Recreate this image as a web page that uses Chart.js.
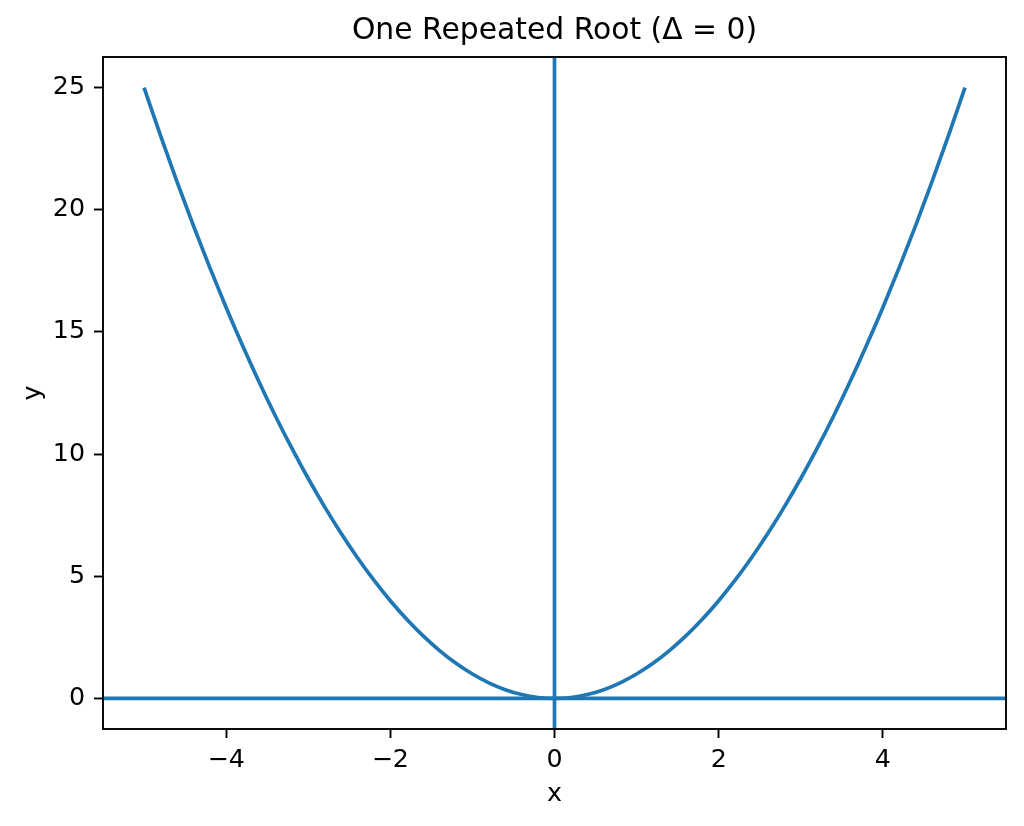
<!DOCTYPE html>
<html>
<head>
<meta charset="utf-8">
<script src="https://cdn.jsdelivr.net/npm/chart.js@4/dist/chart.umd.min.js"></script>
<style>
  html, body { margin: 0; padding: 0; background: #fff; }
  #wrap { width: 1024px; height: 826px; }
</style>
</head>
<body>
<div id="wrap"><canvas id="chart"></canvas></div>
<script>
// ================= DATA =================
const xValues = [-5, -4.8, -4.6, -4.4, -4.2, -4, -3.8, -3.6, -3.4, -3.2, -3, -2.8, -2.6, -2.4, -2.2, -2, -1.8, -1.6, -1.4, -1.2, -1, -0.8, -0.6, -0.4, -0.2,
  0, 0.2, 0.4, 0.6, 0.8, 1, 1.2, 1.4, 1.6, 1.8, 2, 2.2, 2.4, 2.6, 2.8, 3, 3.2, 3.4, 3.6, 3.8, 4, 4.2, 4.4, 4.6, 4.8, 5];
const yValues = [25, 23.04, 21.16, 19.36, 17.64, 16, 14.44, 12.96, 11.56, 10.24, 9, 7.84, 6.76, 5.76, 4.84, 4, 3.24, 2.56, 1.96, 1.44, 1, 0.64, 0.36, 0.16, 0.04,
  0, 0.04, 0.16, 0.36, 0.64, 1, 1.44, 1.96, 2.56, 3.24, 4, 4.84, 5.76, 6.76, 7.84, 9, 10.24, 11.56, 12.96, 14.44, 16, 17.64, 19.36, 21.16, 23.04, 25];
const xTicks = [-4, -2, 0, 2, 4];
const yTicks = [0, 5, 10, 15, 20, 25];
const hLines = [0];   // axhline
const vLines = [0];   // axvline
const titleText = "One Repeated Root (\u0394 = 0)";

const BLUE = "#1f77b4";
const FONT = "DejaVu Sans";
const FS = 25.3;      // tick / axis label size
const LINE_W = 3.7;

const fmt = v => (v < 0 ? "\u2212" + Math.abs(v) : String(v));

// ================= PLUGINS =================
const refLines = {
  id: "refLines",
  afterDatasetsDraw(chart) {
    const { ctx, chartArea: a, scales } = chart;
    ctx.save();
    ctx.beginPath();
    ctx.rect(a.left, a.top, a.right - a.left, a.bottom - a.top);
    ctx.clip();
    ctx.strokeStyle = BLUE;
    ctx.lineWidth = LINE_W;
    hLines.forEach(v => {
      const y = scales.y.getPixelForValue(v);
      ctx.beginPath();
      ctx.moveTo(a.left, y);
      ctx.lineTo(a.right, y);
      ctx.stroke();
    });
    vLines.forEach(v => {
      const x = scales.x.getPixelForValue(v);
      ctx.beginPath();
      ctx.moveTo(x, a.top);
      ctx.lineTo(x, a.bottom);
      ctx.stroke();
    });
    ctx.restore();
  },
  afterDraw(chart) {
    const { ctx, chartArea: a } = chart;
    ctx.save();
    // frame (all four spines)
    ctx.strokeStyle = "#000";
    ctx.lineWidth = 1.9;
    ctx.strokeRect(a.left, a.top, a.right - a.left, a.bottom - a.top);
    // title centred over the plot area
    ctx.fillStyle = "#000";
    ctx.font = `29.8px "${FONT}"`;
    ctx.textAlign = "center";
    ctx.textBaseline = "alphabetic";
    ctx.fillText(titleText, (a.left + a.right) / 2, 39);
    ctx.restore();
  }
};

// ================= CHART =================
new Chart(document.getElementById("chart"), {
  type: "scatter",
  data: {
    datasets: [{
      data: xValues.map((x, i) => ({ x, y: yValues[i] })),
      showLine: true,
      borderColor: BLUE,
      borderWidth: LINE_W,
      pointRadius: 0,
      cubicInterpolationMode: "monotone",
      fill: false
    }]
  },
  options: {
    responsive: true,
    maintainAspectRatio: false,
    animation: false,
    layout: { padding: { left: 0, right: 18, top: 57, bottom: 0 } },
    plugins: {
      legend: { display: false },
      tooltip: { enabled: false },
      title: { display: false }
    },
    scales: {
      x: {
        type: "linear",
        min: -5.5,
        max: 5.5,
        afterBuildTicks: s => { s.ticks = xTicks.map(v => ({ value: v })); },
        afterFit: s => { s.height = 97; },
        grid: { drawOnChartArea: false, drawTicks: true, tickLength: 9, tickColor: "#000", tickWidth: 1.9 },
        border: { display: false },
        ticks: { color: "#000", font: { family: FONT, size: FS }, padding: 7, callback: v => fmt(v), maxRotation: 0 },
        title: { display: true, text: "x", color: "#000", font: { family: FONT, size: FS }, padding: { top: 4, bottom: 16 } }
      },
      y: {
        type: "linear",
        min: -1.25,
        max: 26.25,
        afterBuildTicks: s => { s.ticks = yTicks.map(v => ({ value: v })); },
        afterFit: s => { s.width = 103; },
        grid: { drawOnChartArea: false, drawTicks: true, tickLength: 9, tickColor: "#000", tickWidth: 1.9 },
        border: { display: false },
        ticks: { color: "#000", font: { family: FONT, size: FS }, padding: 9, callback: v => fmt(v) },
        title: { display: true, text: "y", color: "#000", font: { family: FONT, size: FS }, padding: { top: 18, bottom: 0 } }
      }
    }
  },
  plugins: [refLines]
});
</script>
</body>
</html>
